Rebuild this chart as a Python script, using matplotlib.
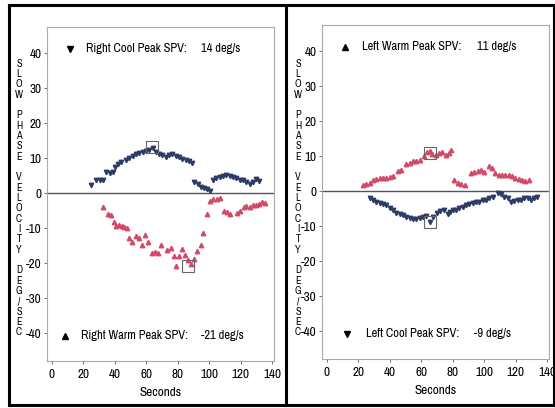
import matplotlib
matplotlib.use("Agg")
import matplotlib.pyplot as plt
from matplotlib.lines import Line2D
from matplotlib import font_manager as fm

# pick a narrow sans if one is installed
fonts = fm.fontManager.ttflist
narrow = [f.name for f in fonts if "Narrow" in f.name]
condensed = [f.name for f in fonts if f.stretch in ("condensed", "semi-condensed")]
if narrow:
    plt.rcParams['font.family'] = [narrow[0], 'DejaVu Sans']
    fs, tfs = 9, 9.5
elif condensed:
    plt.rcParams['font.family'] = [condensed[0], 'DejaVu Sans']
    plt.rcParams['font.stretch'] = 'condensed'
    fs, tfs = 8.5, 9
else:
    plt.rcParams['font.family'] = ['Liberation Sans', 'DejaVu Sans']
    fs, tfs = 7.5, 8.5
plt.rcParams['axes.unicode_minus'] = False

# ---- left panel: right ear ----
rc_t = [25, 28.3, 30.4, 32.5, 34.6, 36.7, 38.8, 40.3, 42, 44, 47, 49, 51.3, 53.4, 55.5, 57.6,
        59.7, 61.8, 64, 66, 68, 70, 72.3, 74.4, 76.5, 78.6, 80.7, 82.8, 85, 87.2, 88.9,
        90.4, 92.5, 94.6, 96.7, 98.8, 100.3, 102.4, 104.5, 106.6, 108.7, 110.8, 112.9, 115,
        117, 119.2, 121.3, 123.4, 125.5, 127.6, 129.7, 131.5]
rc_v = [2.3, 3.7, 3.7, 3.7, 6.1, 5.8, 6.0, 7.5, 8.2, 9.0, 9.4, 10.1, 10.6, 11.1, 11.5, 11.8,
        12.1, 12.3, 12.8, 11.8, 11.3, 10.9, 10.4, 10.9, 11.1, 10.6, 10.2, 9.9, 9.6, 9.2, 8.5,
        3.2, 2.6, 1.8, 1.6, 1.3, 0.7, 3.7, 4.4, 4.6, 4.8, 5.1, 4.8, 4.5,
        4.2, 3.7, 3.7, 3.2, 2.7, 3.2, 3.9, 3.6]
rw_t = [32.5, 35.7, 37.4, 39.3, 41, 42.7, 44.4, 46.1, 47.8, 49, 51.1, 53.2, 55.3, 57.2, 59.1,
        61, 63.3, 65.2, 67.3, 69, 73.3, 75.4, 77.3, 79, 80.7, 82.8, 84.3, 86.4, 88.1, 90.1,
        92.3, 94.4, 96.1, 98.2, 100.1, 102.2, 105, 107, 109.2, 111.3, 113, 117.6, 119.7,
        121.8, 123.5, 125.6, 127.7, 129.8, 131.3, 133.4, 135.5]
rw_v = [-3.9, -6.0, -6.3, -8.2, -9.4, -9.1, -9.4, -9.6, -10.1, -12.7, -13.9, -12.2, -12.9, -14.8, -12.0,
        -13.9, -17.2, -16.7, -17.2, -14.8, -16.4, -15.8, -18.0, -20.9, -18.0, -16.1, -17.8, -19.2, -20.2, -18.7,
        -16.5, -14.7, -11.3, -6.1, -2.2, -1.8, -1.8, -1.5, -5.0, -5.3, -6.0, -5.8, -5.0,
        -4.1, -3.7, -3.9, -3.4, -3.4, -3.0, -2.5, -2.8]

# ---- right panel: left ear ----
lw_t = [23.1, 25.1, 27.2, 29.3, 31.4, 33.5, 35.7, 37.8, 39.9, 42, 45.2, 47.3, 50.5, 52.6, 54.7,
        56.8, 58.9, 61.5, 63.6, 65.3, 67, 69.1, 71.2, 73.3, 75.4, 77.5, 79, 81, 83.2, 85.3,
        87.4, 91.6, 93.7, 95.8, 98, 100, 102.8, 104.9, 107, 109.1, 111.2, 113.3, 115.4,
        117.6, 119.7, 121.8, 123.9, 126, 128.1]
lw_v = [1.7, 2.0, 2.2, 3.2, 3.5, 3.7, 3.7, 3.7, 3.9, 4.2, 5.8, 6.1, 7.7, 8.0, 8.5,
        8.7, 9.0, 10.0, 11.2, 11.6, 10.6, 10.4, 10.9, 11.2, 10.4, 10.9, 11.8, 3.2, 2.2, 2.0,
        1.8, 5.1, 5.6, 5.8, 6.1, 5.4, 7.1, 6.6, 5.1, 4.7, 4.7, 4.7, 4.5,
        4.2, 3.7, 3.5, 3.1, 2.8, 3.2]
lc_t = [27.2, 29.3, 31.4, 33.5, 35.7, 37.8, 39.9, 42, 44.1, 46.2, 48.4, 50.5, 52.6, 54.7, 56.8,
        58.9, 61, 63.1, 65.3, 67.4, 69.9, 72, 74.1, 76.8, 78.5, 80, 82, 84.2, 86.3, 88.4,
        90.5, 92.6, 94.7, 96.8, 98.9, 101, 103.1, 105.3, 108.4, 110.5, 112.6, 114.7, 116.8,
        119, 121.1, 123.2, 125.3, 127.4, 129.5, 131.6, 133.7]
lc_v = [-2.1, -2.6, -3.1, -3.3, -3.7, -4.1, -4.7, -5.5, -6.2, -6.6, -6.9, -7.4, -7.7, -7.9, -7.9,
        -7.6, -7.4, -7.2, -8.8, -7.4, -6.2, -5.6, -5.4, -6.6, -5.9, -5.4, -5.3, -4.7, -4.5, -4.0,
        -3.7, -3.3, -3.1, -3.1, -2.6, -2.4, -2.1, -1.6, -0.5, -0.7, -1.6, -2.1, -3.1,
        -2.8, -2.6, -2.4, -2.1, -1.9, -2.4, -2.1, -1.6]

# peak boxes (time, value) and reported peaks
left_peaks = [(63.8, 13.2), (86.3, -20.8)]
right_peaks = [(65.2, 10.8), (65.2, -8.7)]
left_top = ("v", "Right Cool Peak SPV:", "14 deg/s")
left_bot = ("^", "Right Warm Peak SPV:", "-21 deg/s")
right_top = ("^", "Left Warm Peak SPV:", "11 deg/s")
right_bot = ("v", "Left Cool Peak SPV:", "-9 deg/s")

blue = "#2e3b66"
red = "#d24a68"
ylab = "\n".join("SLOW PHASE VELOCITY DEG/SEC")

fig = plt.figure(figsize=(5.55, 4.08), dpi=100)
W, H = 555.0, 408.0


def panel(rect, up_t, up_v, up_c, up_m, dn_t, dn_v, dn_c, dn_m, peaks, top, bot, ylab_x, offs):
    ax = fig.add_axes(rect)
    ax.axhline(0, color="#555555", lw=1.0, zorder=1)
    ax.plot(up_t, up_v, ls="none", marker=up_m, ms=3.2, color=up_c, mec=up_c, zorder=3)
    ax.plot(dn_t, dn_v, ls="none", marker=dn_m, ms=3.2, color=dn_c, mec=dn_c, zorder=3)
    for pt, pv in peaks:
        ax.plot([pt], [pv], ls="none", marker="s", ms=8, mfc="none", mec="#666666", mew=0.8, zorder=4)
    ax.set_xlim(-3, 141)
    ax.set_ylim(-48, 47.5)
    ax.set_xticks(range(0, 141, 20))
    ax.set_yticks(range(-40, 41, 10))
    ax.tick_params(labelsize=tfs, length=2.5, width=0.6, color="#555555", pad=1.5)
    ax.tick_params(axis="x", pad=3)
    for s in ax.spines.values():
        s.set_color("#aaaaaa")
        s.set_linewidth(0.8)
    ax.set_xlabel("Seconds", fontsize=tfs, labelpad=5)
    # legend-like peak annotations
    for (m, lab, val), yv, (mx, lx, vx) in ((top, 0.935, offs[0]), (bot, 0.075, offs[1])):
        ax.plot([mx], [yv], transform=ax.transAxes, marker=m, ls="none", ms=5, color="black", clip_on=False)
        ax.text(lx, yv, lab, transform=ax.transAxes, fontsize=fs, va="center", ha="left")
        ax.text(vx, yv, val, transform=ax.transAxes, fontsize=fs, va="center", ha="left")
    fig.text(ylab_x / W, 1 - 198 / H, ylab, fontsize=7.5, ha="center", va="center", linespacing=1.04)
    return ax


panel([47 / W, 1 - 361 / H, 227 / W, 334 / H], rc_t, rc_v, blue, "v", rw_t, rw_v, red, "^",
      left_peaks, left_top, left_bot, 19, [(0.1, 0.17, 0.68), (0.08, 0.15, 0.68)])
panel([322 / W, 1 - 359 / H, 227 / W, 334 / H], lw_t, lw_v, red, "^", lc_t, lc_v, blue, "v",
      right_peaks, right_top, right_bot, 298, [(0.1, 0.175, 0.685), (0.11, 0.195, 0.67)])

# black frames around the two panels
frame = [((9, 554), (5, 5)), ((9, 554), (405, 405)), ((9, 9), (5, 405)), ((286, 286), (5, 405)),
         ((554, 554), (5, 405))]
for xs, ys in frame:
    fig.add_artist(Line2D([x / W for x in xs], [1 - y / H for y in ys], color="black", lw=2.2))

fig.savefig("out.png", dpi=100)
